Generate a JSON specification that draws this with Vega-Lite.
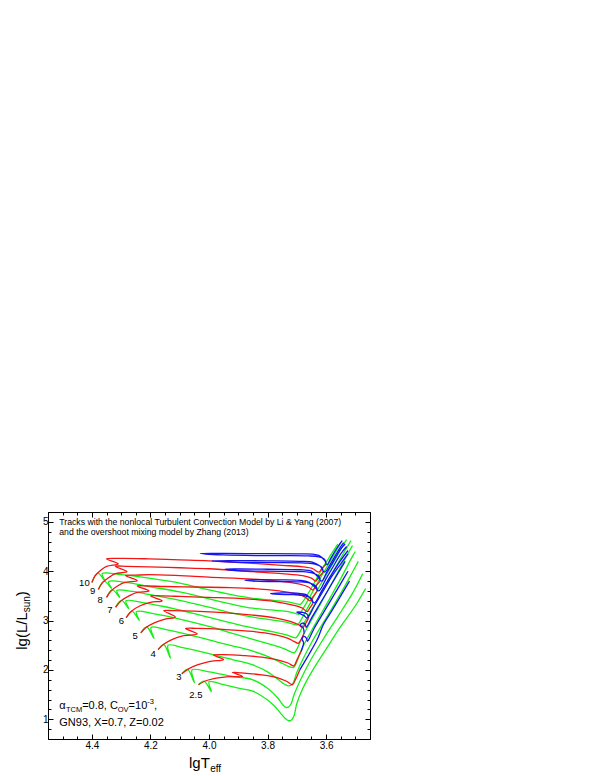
{
"$schema": "https://vega.github.io/schema/vega-lite/v6.json",
"width": 322, "height": 227,
"autosize": {"type": "none"},
"padding": {"left": 48, "top": 512, "right": 229, "bottom": 37},
"background": "white",
"config": {"font": "Liberation Sans", "view": {"stroke": "#000", "strokeWidth": 1},
  "axis": {"grid": false, "domainColor": "#000", "tickColor": "#000", "labelColor": "#000", "labelFont": "Liberation Sans", "labelFontSize": 10, "labelOverlap": false, "labelFlush": false, "title": null}},
"datasets": {
"green": [
{"t":"g10","i":0,"x":4.400,"y":3.77},{"t":"g10","i":1,"x":4.380,"y":3.96},{"t":"g10","i":2,"x":4.355,"y":3.80},{"t":"g10","i":3,"x":4.365,"y":3.95},{"t":"g10","i":4,"x":4.30,"y":3.93},{"t":"g10","i":5,"x":4.205,"y":3.86},{"t":"g10","i":6,"x":4.10,"y":3.76},{"t":"g10","i":7,"x":4.00,"y":3.62},{"t":"g10","i":8,"x":3.92,"y":3.52},{"t":"g10","i":9,"x":3.85,"y":3.45},{"t":"g10","i":10,"x":3.78,"y":3.41},{"t":"g10","i":11,"x":3.73,"y":3.38},{"t":"g10","i":12,"x":3.70,"y":3.34},{"t":"g10","i":13,"x":3.688,"y":3.33},{"t":"g10","i":14,"x":3.675,"y":3.42},{"t":"g10","i":15,"x":3.66,"y":3.56},{"t":"g10","i":16,"x":3.62,"y":3.98},{"t":"g10","i":17,"x":3.585,"y":4.32},{"t":"g10","i":18,"x":3.56,"y":4.55},
{"t":"g9","i":0,"x":4.378,"y":3.63},{"t":"g9","i":1,"x":4.358,"y":3.80},{"t":"g9","i":2,"x":4.333,"y":3.65},{"t":"g9","i":3,"x":4.343,"y":3.79},{"t":"g9","i":4,"x":4.28,"y":3.77},{"t":"g9","i":5,"x":4.205,"y":3.69},{"t":"g9","i":6,"x":4.10,"y":3.58},{"t":"g9","i":7,"x":4.00,"y":3.44},{"t":"g9","i":8,"x":3.92,"y":3.33},{"t":"g9","i":9,"x":3.85,"y":3.25},{"t":"g9","i":10,"x":3.78,"y":3.21},{"t":"g9","i":11,"x":3.73,"y":3.18},{"t":"g9","i":12,"x":3.705,"y":3.145},{"t":"g9","i":13,"x":3.693,"y":3.13},{"t":"g9","i":14,"x":3.68,"y":3.23},{"t":"g9","i":15,"x":3.665,"y":3.38},{"t":"g9","i":16,"x":3.62,"y":3.86},{"t":"g9","i":17,"x":3.58,"y":4.26},{"t":"g9","i":18,"x":3.55,"y":4.58},
{"t":"g8","i":0,"x":4.350,"y":3.47},{"t":"g8","i":1,"x":4.330,"y":3.62},{"t":"g8","i":2,"x":4.305,"y":3.47},{"t":"g8","i":3,"x":4.315,"y":3.61},{"t":"g8","i":4,"x":4.26,"y":3.59},{"t":"g8","i":5,"x":4.205,"y":3.53},{"t":"g8","i":6,"x":4.10,"y":3.41},{"t":"g8","i":7,"x":4.00,"y":3.27},{"t":"g8","i":8,"x":3.92,"y":3.15},{"t":"g8","i":9,"x":3.85,"y":3.07},{"t":"g8","i":10,"x":3.78,"y":3.01},{"t":"g8","i":11,"x":3.73,"y":2.96},{"t":"g8","i":12,"x":3.71,"y":2.925},{"t":"g8","i":13,"x":3.698,"y":2.91},{"t":"g8","i":14,"x":3.685,"y":3.02},{"t":"g8","i":15,"x":3.67,"y":3.18},{"t":"g8","i":16,"x":3.62,"y":3.72},{"t":"g8","i":17,"x":3.58,"y":4.12},{"t":"g8","i":18,"x":3.54,"y":4.55},{"t":"g8","i":19,"x":3.53,"y":4.64},
{"t":"g7","i":0,"x":4.319,"y":3.27},{"t":"g7","i":1,"x":4.299,"y":3.41},{"t":"g7","i":2,"x":4.274,"y":3.24},{"t":"g7","i":3,"x":4.284,"y":3.40},{"t":"g7","i":4,"x":4.23,"y":3.37},{"t":"g7","i":5,"x":4.15,"y":3.28},{"t":"g7","i":6,"x":4.05,"y":3.14},{"t":"g7","i":7,"x":3.95,"y":2.99},{"t":"g7","i":8,"x":3.85,"y":2.85},{"t":"g7","i":9,"x":3.78,"y":2.77},{"t":"g7","i":10,"x":3.735,"y":2.71},{"t":"g7","i":11,"x":3.715,"y":2.665},{"t":"g7","i":12,"x":3.703,"y":2.65},{"t":"g7","i":13,"x":3.69,"y":2.76},{"t":"g7","i":14,"x":3.675,"y":2.95},{"t":"g7","i":15,"x":3.62,"y":3.52},{"t":"g7","i":16,"x":3.58,"y":3.95},{"t":"g7","i":17,"x":3.535,"y":4.42},{"t":"g7","i":18,"x":3.515,"y":4.62},
{"t":"g6","i":0,"x":4.283,"y":3.06},{"t":"g6","i":1,"x":4.263,"y":3.19},{"t":"g6","i":2,"x":4.238,"y":3.00},{"t":"g6","i":3,"x":4.248,"y":3.18},{"t":"g6","i":4,"x":4.19,"y":3.14},{"t":"g6","i":5,"x":4.10,"y":3.03},{"t":"g6","i":6,"x":4.00,"y":2.88},{"t":"g6","i":7,"x":3.92,"y":2.74},{"t":"g6","i":8,"x":3.85,"y":2.62},{"t":"g6","i":9,"x":3.78,"y":2.50},{"t":"g6","i":10,"x":3.74,"y":2.42},{"t":"g6","i":11,"x":3.72,"y":2.365},{"t":"g6","i":12,"x":3.708,"y":2.35},{"t":"g6","i":13,"x":3.695,"y":2.48},{"t":"g6","i":14,"x":3.68,"y":2.68},{"t":"g6","i":15,"x":3.63,"y":3.22},{"t":"g6","i":16,"x":3.58,"y":3.76},{"t":"g6","i":17,"x":3.54,"y":4.20},{"t":"g6","i":18,"x":3.51,"y":4.52},
{"t":"g5","i":0,"x":4.233,"y":2.75},{"t":"g5","i":1,"x":4.213,"y":2.87},{"t":"g5","i":2,"x":4.188,"y":2.64},{"t":"g5","i":3,"x":4.198,"y":2.86},{"t":"g5","i":4,"x":4.15,"y":2.82},{"t":"g5","i":5,"x":4.06,"y":2.70},{"t":"g5","i":6,"x":3.97,"y":2.56},{"t":"g5","i":7,"x":3.90,"y":2.46},{"t":"g5","i":8,"x":3.85,"y":2.38},{"t":"g5","i":9,"x":3.79,"y":2.25},{"t":"g5","i":10,"x":3.745,"y":2.12},{"t":"g5","i":11,"x":3.724,"y":2.06},{"t":"g5","i":12,"x":3.711,"y":2.05},{"t":"g5","i":13,"x":3.70,"y":2.16},{"t":"g5","i":14,"x":3.685,"y":2.40},{"t":"g5","i":15,"x":3.64,"y":2.90},{"t":"g5","i":16,"x":3.59,"y":3.42},{"t":"g5","i":17,"x":3.55,"y":3.85},{"t":"g5","i":18,"x":3.51,"y":4.30},{"t":"g5","i":19,"x":3.50,"y":4.40},
{"t":"g4","i":0,"x":4.174,"y":2.41},{"t":"g4","i":1,"x":4.154,"y":2.51},{"t":"g4","i":2,"x":4.132,"y":2.24},{"t":"g4","i":3,"x":4.14,"y":2.50},{"t":"g4","i":4,"x":4.09,"y":2.45},{"t":"g4","i":5,"x":4.00,"y":2.33},{"t":"g4","i":6,"x":3.92,"y":2.21},{"t":"g4","i":7,"x":3.85,"y":2.10},{"t":"g4","i":8,"x":3.80,"y":1.96},{"t":"g4","i":9,"x":3.765,"y":1.81},{"t":"g4","i":10,"x":3.742,"y":1.71},{"t":"g4","i":11,"x":3.727,"y":1.675},{"t":"g4","i":12,"x":3.714,"y":1.72},{"t":"g4","i":13,"x":3.70,"y":1.95},{"t":"g4","i":14,"x":3.65,"y":2.55},{"t":"g4","i":15,"x":3.60,"y":3.05},{"t":"g4","i":16,"x":3.55,"y":3.55},{"t":"g4","i":17,"x":3.51,"y":3.98},{"t":"g4","i":18,"x":3.49,"y":4.20},
{"t":"g3","i":0,"x":4.093,"y":1.92},{"t":"g3","i":1,"x":4.073,"y":2.01},{"t":"g3","i":2,"x":4.05,"y":1.74},{"t":"g3","i":3,"x":4.058,"y":2.00},{"t":"g3","i":4,"x":4.00,"y":1.96},{"t":"g3","i":5,"x":3.93,"y":1.88},{"t":"g3","i":6,"x":3.85,"y":1.80},{"t":"g3","i":7,"x":3.80,"y":1.63},{"t":"g3","i":8,"x":3.765,"y":1.43},{"t":"g3","i":9,"x":3.75,"y":1.31},{"t":"g3","i":10,"x":3.739,"y":1.245},{"t":"g3","i":11,"x":3.729,"y":1.245},{"t":"g3","i":12,"x":3.719,"y":1.32},{"t":"g3","i":13,"x":3.708,"y":1.52},{"t":"g3","i":14,"x":3.66,"y":2.12},{"t":"g3","i":15,"x":3.61,"y":2.62},{"t":"g3","i":16,"x":3.56,"y":3.08},{"t":"g3","i":17,"x":3.51,"y":3.55},{"t":"g3","i":18,"x":3.475,"y":3.95},
{"t":"g25","i":0,"x":4.036,"y":1.70},{"t":"g25","i":1,"x":4.016,"y":1.77},{"t":"g25","i":2,"x":3.992,"y":1.56},{"t":"g25","i":3,"x":4.0,"y":1.76},{"t":"g25","i":4,"x":3.95,"y":1.70},{"t":"g25","i":5,"x":3.90,"y":1.63},{"t":"g25","i":6,"x":3.85,"y":1.57},{"t":"g25","i":7,"x":3.80,"y":1.39},{"t":"g25","i":8,"x":3.775,"y":1.26},{"t":"g25","i":9,"x":3.755,"y":1.12},{"t":"g25","i":10,"x":3.74,"y":1.02},{"t":"g25","i":11,"x":3.729,"y":0.972},{"t":"g25","i":12,"x":3.718,"y":0.985},{"t":"g25","i":13,"x":3.709,"y":1.08},{"t":"g25","i":14,"x":3.70,"y":1.32},{"t":"g25","i":15,"x":3.68,"y":1.62},{"t":"g25","i":16,"x":3.65,"y":1.95},{"t":"g25","i":17,"x":3.60,"y":2.42},{"t":"g25","i":18,"x":3.55,"y":2.88},{"t":"g25","i":19,"x":3.50,"y":3.30},{"t":"g25","i":20,"x":3.465,"y":3.65}
],
"red": [
{"t":"r10","i":0,"x":4.400,"y":3.77},{"t":"r10","i":1,"x":4.39,"y":3.90},{"t":"r10","i":2,"x":4.37,"y":4.02},{"t":"r10","i":3,"x":4.35,"y":4.10},{"t":"r10","i":4,"x":4.31,"y":4.15},{"t":"r10","i":5,"x":4.35,"y":4.25},{"t":"r10","i":6,"x":4.30,"y":4.26},{"t":"r10","i":7,"x":4.205,"y":4.25},{"t":"r10","i":8,"x":4.10,"y":4.23},{"t":"r10","i":9,"x":4.00,"y":4.21},{"t":"r10","i":10,"x":3.85,"y":4.16},{"t":"r10","i":11,"x":3.75,"y":4.12},{"t":"r10","i":12,"x":3.68,"y":4.09},{"t":"r10","i":13,"x":3.645,"y":4.05},{"t":"r10","i":14,"x":3.625,"y":3.98},{"t":"r10","i":15,"x":3.615,"y":4.05},{"t":"r10","i":16,"x":3.60,"y":4.14},
{"t":"r9","i":0,"x":4.378,"y":3.63},{"t":"r9","i":1,"x":4.365,"y":3.76},{"t":"r9","i":2,"x":4.34,"y":3.88},{"t":"r9","i":3,"x":4.32,"y":3.95},{"t":"r9","i":4,"x":4.28,"y":3.99},{"t":"r9","i":5,"x":4.32,"y":4.10},{"t":"r9","i":6,"x":4.28,"y":4.10},{"t":"r9","i":7,"x":4.205,"y":4.09},{"t":"r9","i":8,"x":4.10,"y":4.07},{"t":"r9","i":9,"x":4.00,"y":4.05},{"t":"r9","i":10,"x":3.85,"y":3.99},{"t":"r9","i":11,"x":3.75,"y":3.95},{"t":"r9","i":12,"x":3.68,"y":3.91},{"t":"r9","i":13,"x":3.65,"y":3.86},{"t":"r9","i":14,"x":3.635,"y":3.80},{"t":"r9","i":15,"x":3.625,"y":3.88},{"t":"r9","i":16,"x":3.61,"y":3.98},
{"t":"r8","i":0,"x":4.350,"y":3.47},{"t":"r8","i":1,"x":4.335,"y":3.60},{"t":"r8","i":2,"x":4.31,"y":3.71},{"t":"r8","i":3,"x":4.29,"y":3.77},{"t":"r8","i":4,"x":4.245,"y":3.81},{"t":"r8","i":5,"x":4.285,"y":3.91},{"t":"r8","i":6,"x":4.25,"y":3.92},{"t":"r8","i":7,"x":4.205,"y":3.93},{"t":"r8","i":8,"x":4.10,"y":3.91},{"t":"r8","i":9,"x":4.00,"y":3.88},{"t":"r8","i":10,"x":3.85,"y":3.84},{"t":"r8","i":11,"x":3.75,"y":3.79},{"t":"r8","i":12,"x":3.69,"y":3.74},{"t":"r8","i":13,"x":3.66,"y":3.68},{"t":"r8","i":14,"x":3.645,"y":3.62},{"t":"r8","i":15,"x":3.635,"y":3.70},{"t":"r8","i":16,"x":3.62,"y":3.80},
{"t":"r7","i":0,"x":4.319,"y":3.27},{"t":"r7","i":1,"x":4.30,"y":3.40},{"t":"r7","i":2,"x":4.27,"y":3.51},{"t":"r7","i":3,"x":4.245,"y":3.57},{"t":"r7","i":4,"x":4.205,"y":3.60},{"t":"r7","i":5,"x":4.245,"y":3.70},{"t":"r7","i":6,"x":4.21,"y":3.70},{"t":"r7","i":7,"x":4.15,"y":3.69},{"t":"r7","i":8,"x":4.05,"y":3.68},{"t":"r7","i":9,"x":3.95,"y":3.67},{"t":"r7","i":10,"x":3.85,"y":3.65},{"t":"r7","i":11,"x":3.76,"y":3.60},{"t":"r7","i":12,"x":3.70,"y":3.54},{"t":"r7","i":13,"x":3.67,"y":3.47},{"t":"r7","i":14,"x":3.655,"y":3.40},{"t":"r7","i":15,"x":3.645,"y":3.48},{"t":"r7","i":16,"x":3.63,"y":3.60},
{"t":"r6","i":0,"x":4.283,"y":3.06},{"t":"r6","i":1,"x":4.265,"y":3.19},{"t":"r6","i":2,"x":4.235,"y":3.30},{"t":"r6","i":3,"x":4.20,"y":3.37},{"t":"r6","i":4,"x":4.16,"y":3.40},{"t":"r6","i":5,"x":4.20,"y":3.50},{"t":"r6","i":6,"x":4.16,"y":3.50},{"t":"r6","i":7,"x":4.10,"y":3.49},{"t":"r6","i":8,"x":4.00,"y":3.47},{"t":"r6","i":9,"x":3.90,"y":3.45},{"t":"r6","i":10,"x":3.85,"y":3.43},{"t":"r6","i":11,"x":3.77,"y":3.38},{"t":"r6","i":12,"x":3.71,"y":3.31},{"t":"r6","i":13,"x":3.68,"y":3.25},{"t":"r6","i":14,"x":3.665,"y":3.18},{"t":"r6","i":15,"x":3.655,"y":3.26},{"t":"r6","i":16,"x":3.645,"y":3.35},
{"t":"r5","i":0,"x":4.233,"y":2.75},{"t":"r5","i":1,"x":4.215,"y":2.86},{"t":"r5","i":2,"x":4.185,"y":2.96},{"t":"r5","i":3,"x":4.15,"y":3.03},{"t":"r5","i":4,"x":4.115,"y":3.07},{"t":"r5","i":5,"x":4.155,"y":3.20},{"t":"r5","i":6,"x":4.12,"y":3.20},{"t":"r5","i":7,"x":4.05,"y":3.19},{"t":"r5","i":8,"x":3.95,"y":3.16},{"t":"r5","i":9,"x":3.85,"y":3.11},{"t":"r5","i":10,"x":3.77,"y":3.05},{"t":"r5","i":11,"x":3.72,"y":2.98},{"t":"r5","i":12,"x":3.695,"y":2.92},{"t":"r5","i":13,"x":3.68,"y":2.86},{"t":"r5","i":14,"x":3.67,"y":2.94},{"t":"r5","i":15,"x":3.66,"y":3.05},
{"t":"r4","i":0,"x":4.174,"y":2.41},{"t":"r4","i":1,"x":4.155,"y":2.52},{"t":"r4","i":2,"x":4.125,"y":2.62},{"t":"r4","i":3,"x":4.09,"y":2.69},{"t":"r4","i":4,"x":4.04,"y":2.73},{"t":"r4","i":5,"x":4.08,"y":2.84},{"t":"r4","i":6,"x":4.04,"y":2.84},{"t":"r4","i":7,"x":3.95,"y":2.82},{"t":"r4","i":8,"x":3.85,"y":2.78},{"t":"r4","i":9,"x":3.78,"y":2.72},{"t":"r4","i":10,"x":3.73,"y":2.64},{"t":"r4","i":11,"x":3.71,"y":2.58},{"t":"r4","i":12,"x":3.695,"y":2.54},{"t":"r4","i":13,"x":3.685,"y":2.62},{"t":"r4","i":14,"x":3.675,"y":2.75},
{"t":"r3","i":0,"x":4.093,"y":1.92},{"t":"r3","i":1,"x":4.07,"y":2.02},{"t":"r3","i":2,"x":4.04,"y":2.10},{"t":"r3","i":3,"x":4.00,"y":2.17},{"t":"r3","i":4,"x":3.95,"y":2.21},{"t":"r3","i":5,"x":3.985,"y":2.30},{"t":"r3","i":6,"x":3.95,"y":2.31},{"t":"r3","i":7,"x":3.88,"y":2.29},{"t":"r3","i":8,"x":3.82,"y":2.26},{"t":"r3","i":9,"x":3.77,"y":2.21},{"t":"r3","i":10,"x":3.73,"y":2.14},{"t":"r3","i":11,"x":3.71,"y":2.08},{"t":"r3","i":12,"x":3.70,"y":2.20},{"t":"r3","i":13,"x":3.685,"y":2.38},
{"t":"r25","i":0,"x":4.036,"y":1.70},{"t":"r25","i":1,"x":4.015,"y":1.77},{"t":"r25","i":2,"x":3.98,"y":1.83},{"t":"r25","i":3,"x":3.94,"y":1.86},{"t":"r25","i":4,"x":3.885,"y":1.87},{"t":"r25","i":5,"x":3.92,"y":1.95},{"t":"r25","i":6,"x":3.89,"y":1.94},{"t":"r25","i":7,"x":3.82,"y":1.90},{"t":"r25","i":8,"x":3.77,"y":1.85},{"t":"r25","i":9,"x":3.735,"y":1.77},{"t":"r25","i":10,"x":3.715,"y":1.70},{"t":"r25","i":11,"x":3.705,"y":1.80},{"t":"r25","i":12,"x":3.69,"y":2.00}
],
"blue": [
{"t":"b10","i":0,"x":3.60,"y":4.14},{"t":"b10","i":1,"x":3.605,"y":4.24},{"t":"b10","i":2,"x":3.625,"y":4.29},{"t":"b10","i":3,"x":3.66,"y":4.31},{"t":"b10","i":4,"x":3.80,"y":4.315},{"t":"b10","i":5,"x":3.95,"y":4.33},{"t":"b10","i":6,"x":4.03,"y":4.36},{"t":"b10","i":7,"x":3.95,"y":4.36},{"t":"b10","i":8,"x":3.80,"y":4.355},{"t":"b10","i":9,"x":3.70,"y":4.35},{"t":"b10","i":10,"x":3.645,"y":4.345},{"t":"b10","i":11,"x":3.625,"y":4.32},{"t":"b10","i":12,"x":3.605,"y":4.22},{"t":"b10","i":13,"x":3.597,"y":4.13},{"t":"b10","i":14,"x":3.585,"y":4.25},{"t":"b10","i":15,"x":3.565,"y":4.45},{"t":"b10","i":16,"x":3.545,"y":4.62},
{"t":"b9","i":0,"x":3.61,"y":3.98},{"t":"b9","i":1,"x":3.615,"y":4.08},{"t":"b9","i":2,"x":3.635,"y":4.14},{"t":"b9","i":3,"x":3.67,"y":4.165},{"t":"b9","i":4,"x":3.80,"y":4.175},{"t":"b9","i":5,"x":3.92,"y":4.185},{"t":"b9","i":6,"x":3.99,"y":4.21},{"t":"b9","i":7,"x":3.92,"y":4.215},{"t":"b9","i":8,"x":3.80,"y":4.21},{"t":"b9","i":9,"x":3.69,"y":4.20},{"t":"b9","i":10,"x":3.645,"y":4.18},{"t":"b9","i":11,"x":3.62,"y":4.10},{"t":"b9","i":12,"x":3.605,"y":3.98},{"t":"b9","i":13,"x":3.59,"y":4.10},{"t":"b9","i":14,"x":3.57,"y":4.30},{"t":"b9","i":15,"x":3.55,"y":4.50},{"t":"b9","i":16,"x":3.54,"y":4.58},
{"t":"b8","i":0,"x":3.62,"y":3.80},{"t":"b8","i":1,"x":3.625,"y":3.90},{"t":"b8","i":2,"x":3.645,"y":3.96},{"t":"b8","i":3,"x":3.68,"y":3.99},{"t":"b8","i":4,"x":3.80,"y":4.00},{"t":"b8","i":5,"x":3.90,"y":4.01},{"t":"b8","i":6,"x":3.946,"y":4.04},{"t":"b8","i":7,"x":3.90,"y":4.045},{"t":"b8","i":8,"x":3.80,"y":4.04},{"t":"b8","i":9,"x":3.69,"y":4.03},{"t":"b8","i":10,"x":3.65,"y":4.00},{"t":"b8","i":11,"x":3.63,"y":3.90},{"t":"b8","i":12,"x":3.615,"y":3.80},{"t":"b8","i":13,"x":3.60,"y":3.95},{"t":"b8","i":14,"x":3.575,"y":4.20},{"t":"b8","i":15,"x":3.55,"y":4.45},{"t":"b8","i":16,"x":3.535,"y":4.55},
{"t":"b7","i":0,"x":3.63,"y":3.60},{"t":"b7","i":1,"x":3.635,"y":3.70},{"t":"b7","i":2,"x":3.655,"y":3.76},{"t":"b7","i":3,"x":3.69,"y":3.785},{"t":"b7","i":4,"x":3.78,"y":3.79},{"t":"b7","i":5,"x":3.85,"y":3.80},{"t":"b7","i":6,"x":3.878,"y":3.82},{"t":"b7","i":7,"x":3.84,"y":3.83},{"t":"b7","i":8,"x":3.76,"y":3.825},{"t":"b7","i":9,"x":3.69,"y":3.815},{"t":"b7","i":10,"x":3.66,"y":3.78},{"t":"b7","i":11,"x":3.64,"y":3.69},{"t":"b7","i":12,"x":3.625,"y":3.60},{"t":"b7","i":13,"x":3.60,"y":3.85},{"t":"b7","i":14,"x":3.575,"y":4.10},{"t":"b7","i":15,"x":3.55,"y":4.35},{"t":"b7","i":16,"x":3.53,"y":4.50},
{"t":"b6","i":0,"x":3.645,"y":3.35},{"t":"b6","i":1,"x":3.65,"y":3.45},{"t":"b6","i":2,"x":3.67,"y":3.50},{"t":"b6","i":3,"x":3.71,"y":3.525},{"t":"b6","i":4,"x":3.76,"y":3.53},{"t":"b6","i":5,"x":3.79,"y":3.55},{"t":"b6","i":6,"x":3.75,"y":3.56},{"t":"b6","i":7,"x":3.70,"y":3.555},{"t":"b6","i":8,"x":3.67,"y":3.53},{"t":"b6","i":9,"x":3.655,"y":3.46},{"t":"b6","i":10,"x":3.64,"y":3.36},{"t":"b6","i":11,"x":3.615,"y":3.60},{"t":"b6","i":12,"x":3.585,"y":3.90},{"t":"b6","i":13,"x":3.555,"y":4.18},{"t":"b6","i":14,"x":3.525,"y":4.42},
{"t":"b5","i":0,"x":3.66,"y":3.05},{"t":"b5","i":1,"x":3.665,"y":3.13},{"t":"b5","i":2,"x":3.68,"y":3.165},{"t":"b5","i":3,"x":3.70,"y":3.17},{"t":"b5","i":4,"x":3.69,"y":3.14},{"t":"b5","i":5,"x":3.675,"y":3.10},{"t":"b5","i":6,"x":3.665,"y":3.05},{"t":"b5","i":7,"x":3.64,"y":3.30},{"t":"b5","i":8,"x":3.61,"y":3.60},{"t":"b5","i":9,"x":3.58,"y":3.90},{"t":"b5","i":10,"x":3.55,"y":4.15},{"t":"b5","i":11,"x":3.525,"y":4.35},
{"t":"b4","i":0,"x":3.675,"y":2.75},{"t":"b4","i":1,"x":3.678,"y":2.85},{"t":"b4","i":2,"x":3.688,"y":2.91},{"t":"b4","i":3,"x":3.68,"y":2.95},{"t":"b4","i":4,"x":3.671,"y":2.92},{"t":"b4","i":5,"x":3.668,"y":2.86},{"t":"b4","i":6,"x":3.65,"y":3.05},{"t":"b4","i":7,"x":3.62,"y":3.35},{"t":"b4","i":8,"x":3.59,"y":3.65},{"t":"b4","i":9,"x":3.56,"y":3.95},{"t":"b4","i":10,"x":3.535,"y":4.20},
{"t":"b3","i":0,"x":3.685,"y":2.38},{"t":"b3","i":1,"x":3.677,"y":2.55},{"t":"b3","i":2,"x":3.682,"y":2.63},{"t":"b3","i":3,"x":3.675,"y":2.68},{"t":"b3","i":4,"x":3.667,"y":2.64},{"t":"b3","i":5,"x":3.664,"y":2.58},{"t":"b3","i":6,"x":3.64,"y":2.85},{"t":"b3","i":7,"x":3.61,"y":3.15},{"t":"b3","i":8,"x":3.58,"y":3.45},{"t":"b3","i":9,"x":3.55,"y":3.75},{"t":"b3","i":10,"x":3.525,"y":4.00},
{"t":"b25","i":0,"x":3.69,"y":2.00},{"t":"b25","i":1,"x":3.66,"y":2.30},{"t":"b25","i":2,"x":3.63,"y":2.62},{"t":"b25","i":3,"x":3.61,"y":2.91},{"t":"b25","i":4,"x":3.58,"y":3.20},{"t":"b25","i":5,"x":3.55,"y":3.50},{"t":"b25","i":6,"x":3.52,"y":3.80}
],
"texts": [
{"g":"title","x":4.5115,"y":4.927,"text":"Tracks with the nonlocal Turbulent Convection Model by Li & Yang (2007)"},
{"g":"title","x":4.5115,"y":4.725,"text":"and the overshoot mixing model by Zhang (2013)"},
{"g":"mass","x":4.4257,"y":3.766,"text":"10"},
{"g":"mass","x":4.3976,"y":3.60,"text":"9"},
{"g":"mass","x":4.372,"y":3.424,"text":"8"},
{"g":"mass","x":4.3385,"y":3.216,"text":"7"},
{"g":"mass","x":4.299,"y":2.984,"text":"6"},
{"g":"mass","x":4.2524,"y":2.691,"text":"5"},
{"g":"mass","x":4.191,"y":2.327,"text":"4"},
{"g":"mass","x":4.103,"y":1.857,"text":"3"},
{"g":"mass","x":4.0446,"y":1.499,"text":"2.5"},
{"g":"par","x":4.5115,"y":1.21,"text":"α"},
{"g":"par","x":4.4334,"y":1.21,"text":"=0.8, C"},
{"g":"par","x":4.2747,"y":1.21,"text":"=10"},
{"g":"par","x":4.1878,"y":1.21,"text":","},
{"g":"par","x":4.5115,"y":0.859,"text":"GN93, X=0.7, Z=0.02"},
{"g":"parsub","x":4.4889,"y":1.149,"text":"TCM"},
{"g":"parsub","x":4.3118,"y":1.149,"text":"OV"},
{"g":"parsub","x":4.2108,"y":1.301,"text":"-3"},
{"g":"xt","x":3.997,"y":0.004,"text":"lgT"},
{"g":"xtsub","x":3.996,"y":-0.06,"text":"eff"},
{"g":"yt","x":4.6223,"y":2.408,"text":"lg(L/L"},
{"g":"yt","x":4.6223,"y":3.491,"text":")"},
{"g":"ytsub","x":4.612,"y":3.166,"text":"sun"}
]
},
"layer": [
{"data": {"name": "green"},
 "mark": {"type": "line", "color": "#14f014", "strokeWidth": 1.3, "interpolate": "catmull-rom", "clip": true},
 "encoding": {
  "x": {"field": "x", "type": "quantitative", "scale": {"domain": [3.45, 4.55], "reverse": true, "nice": false, "zero": false},
    "axis": {"orient": "bottom", "values": [3.5,3.55,3.6,3.65,3.7,3.75,3.8,3.85,3.9,3.95,4.0,4.05,4.1,4.15,4.2,4.25,4.3,4.35,4.4,4.45,4.5],
      "labelExpr": "abs(datum.value*5-round(datum.value*5))<0.001 ? format(datum.value,'.1f') : ''",
      "tickSize": {"condition": {"test": "abs(datum.value*5-round(datum.value*5))<0.001", "value": -5}, "value": -3},
      "labelPadding": 6}},
  "y": {"field": "y", "type": "quantitative", "scale": {"domain": [0.6, 5.2], "nice": false, "zero": false},
    "axis": {"orient": "left", "values": [0.8,1,1.2,1.4,1.6,1.8,2,2.2,2.4,2.6,2.8,3,3.2,3.4,3.6,3.8,4,4.2,4.4,4.6,4.8,5],
      "labelExpr": "abs(datum.value-round(datum.value))<0.001 ? format(datum.value,'d') : ''",
      "tickSize": {"condition": {"test": "abs(datum.value-round(datum.value))<0.001", "value": -5}, "value": -3},
      "labelPadding": 5}},
  "detail": {"field": "t"},
  "order": {"field": "i", "type": "quantitative"}
 }},
{"data": {"name": "red"},
 "mark": {"type": "line", "color": "#f51414", "strokeWidth": 1.3, "interpolate": "catmull-rom", "clip": true},
 "encoding": {
  "x": {"field": "x", "type": "quantitative", "scale": {"domain": [3.45, 4.55], "reverse": true, "nice": false, "zero": false},
    "axis": {"orient": "top", "values": [3.5,3.55,3.6,3.65,3.7,3.75,3.8,3.85,3.9,3.95,4.0,4.05,4.1,4.15,4.2,4.25,4.3,4.35,4.4,4.45,4.5],
      "labels": false,
      "tickSize": {"condition": {"test": "abs(datum.value*5-round(datum.value*5))<0.001", "value": -5}, "value": -3}}},
  "y": {"field": "y", "type": "quantitative", "scale": {"domain": [0.6, 5.2], "nice": false, "zero": false},
    "axis": {"orient": "right", "values": [0.8,1,1.2,1.4,1.6,1.8,2,2.2,2.4,2.6,2.8,3,3.2,3.4,3.6,3.8,4,4.2,4.4,4.6,4.8,5],
      "labels": false,
      "tickSize": {"condition": {"test": "abs(datum.value-round(datum.value))<0.001", "value": -5}, "value": -3}}},
  "detail": {"field": "t"},
  "order": {"field": "i", "type": "quantitative"}
 }},
{"data": {"name": "blue"},
 "mark": {"type": "line", "color": "#1414f5", "strokeWidth": 1.3, "interpolate": "catmull-rom", "clip": true},
 "encoding": {
  "x": {"field": "x", "type": "quantitative", "scale": {"domain": [3.45, 4.55], "reverse": true, "nice": false, "zero": false}, "axis": null},
  "y": {"field": "y", "type": "quantitative", "scale": {"domain": [0.6, 5.2], "nice": false, "zero": false}, "axis": null},
  "detail": {"field": "t"},
  "order": {"field": "i", "type": "quantitative"}
 }},
{"data": {"name": "texts"}, "transform": [{"filter": "datum.g === 'title'"}],
 "mark": {"type": "text", "align": "left", "baseline": "alphabetic", "fontSize": 8.7, "color": "#000"},
 "encoding": {"x": {"field": "x", "type": "quantitative", "axis": null}, "y": {"field": "y", "type": "quantitative", "axis": null}, "text": {"field": "text"}}},
{"data": {"name": "texts"}, "transform": [{"filter": "datum.g === 'mass'"}],
 "mark": {"type": "text", "align": "center", "baseline": "middle", "fontSize": 9.5, "color": "#000"},
 "encoding": {"x": {"field": "x", "type": "quantitative", "axis": null}, "y": {"field": "y", "type": "quantitative", "axis": null}, "text": {"field": "text"}}},
{"data": {"name": "texts"}, "transform": [{"filter": "datum.g === 'par'"}],
 "mark": {"type": "text", "align": "left", "baseline": "alphabetic", "fontSize": 11, "color": "#000"},
 "encoding": {"x": {"field": "x", "type": "quantitative", "axis": null}, "y": {"field": "y", "type": "quantitative", "axis": null}, "text": {"field": "text"}}},
{"data": {"name": "texts"}, "transform": [{"filter": "datum.g === 'parsub'"}],
 "mark": {"type": "text", "align": "left", "baseline": "alphabetic", "fontSize": 7.5, "color": "#000"},
 "encoding": {"x": {"field": "x", "type": "quantitative", "axis": null}, "y": {"field": "y", "type": "quantitative", "axis": null}, "text": {"field": "text"}}},
{"data": {"name": "texts"}, "transform": [{"filter": "datum.g === 'xt'"}],
 "mark": {"type": "text", "align": "right", "baseline": "alphabetic", "fontSize": 15, "color": "#000"},
 "encoding": {"x": {"field": "x", "type": "quantitative", "axis": null}, "y": {"field": "y", "type": "quantitative", "axis": null}, "text": {"field": "text"}}},
{"data": {"name": "texts"}, "transform": [{"filter": "datum.g === 'xtsub'"}],
 "mark": {"type": "text", "align": "left", "baseline": "alphabetic", "fontSize": 10, "color": "#000"},
 "encoding": {"x": {"field": "x", "type": "quantitative", "axis": null}, "y": {"field": "y", "type": "quantitative", "axis": null}, "text": {"field": "text"}}},
{"data": {"name": "texts"}, "transform": [{"filter": "datum.g === 'yt'"}],
 "mark": {"type": "text", "align": "left", "baseline": "alphabetic", "fontSize": 15, "angle": 270, "color": "#000"},
 "encoding": {"x": {"field": "x", "type": "quantitative", "axis": null}, "y": {"field": "y", "type": "quantitative", "axis": null}, "text": {"field": "text"}}},
{"data": {"name": "texts"}, "transform": [{"filter": "datum.g === 'ytsub'"}],
 "mark": {"type": "text", "align": "left", "baseline": "alphabetic", "fontSize": 10, "angle": 270, "color": "#000"},
 "encoding": {"x": {"field": "x", "type": "quantitative", "axis": null}, "y": {"field": "y", "type": "quantitative", "axis": null}, "text": {"field": "text"}}}
],
"resolve": {"axis": {"x": "independent", "y": "independent"}}
}
